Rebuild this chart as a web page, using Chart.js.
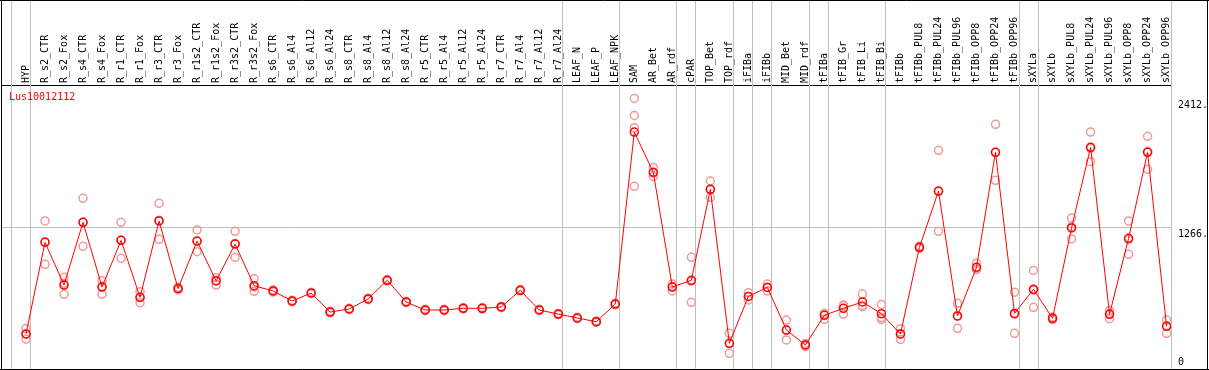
<!DOCTYPE html>
<html>
<head>
<meta charset="utf-8">
<script src="https://cdn.jsdelivr.net/npm/chart.js@4.4.1/dist/chart.umd.min.js"></script>
<style>
  html, body { margin: 0; padding: 0; background: #fff; }
  canvas { display: block; }
</style>
</head>
<body>
<canvas id="exprChart" width="1209" height="370"></canvas>
<script>
var geneName = 'Lus10012112'

var categories = [
  'HYP', 'R_s2_CTR', 'R_s2_Fox', 'R_s4_CTR', 'R_s4_Fox', 'R_r1_CTR', 'R_r1_Fox', 'R_r3_CTR', 'R_r3_Fox',
  'R_r1s2_CTR', 'R_r1s2_Fox', 'R_r3s2_CTR', 'R_r3s2_Fox', 'R_s6_CTR', 'R_s6_Al4', 'R_s6_Al12', 'R_s6_Al24',
  'R_s8_CTR', 'R_s8_Al4', 'R_s8_Al12', 'R_s8_Al24', 'R_r5_CTR', 'R_r5_Al4', 'R_r5_Al12', 'R_r5_Al24',
  'R_r7_CTR', 'R_r7_Al4', 'R_r7_Al12', 'R_r7_Al24', 'LEAF_N', 'LEAF_P', 'LEAF_NPK', 'SAM', 'AR_Bet', 'AR_rdf',
  'cPAR', 'TOP_Bet', 'TOP_rdf', 'iFIBa', 'iFIBb', 'MID_Bet', 'MID_rdf', 'tFIBa', 'tFIB_Gr', 'tFIB_Li', 'tFIB_Bi',
  'tFIBb', 'tFIBb_PUL8', 'tFIBb_PUL24', 'tFIBb_PUL96', 'tFIBb_OPP8', 'tFIBb_OPP24', 'tFIBb_OPP96',
  'sXYLa', 'sXYLb', 'sXYLb_PUL8', 'sXYLb_PUL24', 'sXYLb_PUL96', 'sXYLb_OPP8', 'sXYLb_OPP24', 'sXYLb_OPP96'
]

var means = [
  320, 1134, 755, 1312, 737, 1152, 646, 1324, 723,
  1146, 791, 1119, 749, 702, 613, 684, 515,
  542, 631, 797, 604, 533, 533, 548, 548,
  560, 708, 533, 497, 462, 429, 586, 2114, 1756, 737,
  797, 1605, 237, 654, 734, 355, 222, 486, 548, 604, 500,
  320, 1090, 1590, 480, 912, 1934, 503,
  717, 459, 1262, 1978, 495, 1170, 1934, 388
]

var replicates = [
  [368, 318, 274], [1324, 1139, 939], [823, 770, 672], [1525, 1312, 1099], [794, 745, 672],
  [1312, 1152, 992], [696, 644, 598], [1481, 1330, 1161], [735, 723, 711],
  [1244, 1143, 1051], [820, 798, 755], [1232, 1124, 1001], [811, 737, 699],
  [712, 702, 692], [620, 613, 606], [690, 684, 678], [522, 515, 508],
  [548, 542, 536], [638, 631, 624], [804, 797, 790], [610, 604, 598],
  [539, 533, 527], [540, 533, 526], [554, 548, 542], [555, 548, 541],
  [566, 560, 554], [715, 708, 701], [539, 533, 527], [503, 497, 491],
  [468, 462, 456], [435, 429, 423], [592, 586, 580],
  [2413, 2262, 2153, 1632], [1800, 1750, 1718], [764, 745, 702],
  [1001, 789, 601], [1679, 1602, 1534], [326, 237, 148],
  [687, 654, 622], [764, 736, 702], [444, 355, 267], [235, 222, 210],
  [503, 502, 450], [577, 570, 497], [675, 574, 563], [583, 467, 450],
  [367, 321, 272], [1100, 1090, 1080], [1952, 1586, 1232], [592, 478, 370],
  [948, 894, 894], [2183, 1934, 1685], [690, 493, 326],
  [885, 709, 557], [470, 459, 448], [1350, 1272, 1164], [2114, 1969, 1851],
  [527, 502, 456], [1324, 1158, 1028], [2076, 1943, 1783], [444, 394, 326]
]

// index of first category in each block (61 = right edge)
var groupStarts = [0, 1, 29, 32, 35, 36, 38, 39, 40, 42, 43, 46, 53, 54, 61]

var yTicks = [0, 1266, 2412]
var yTickLabels = ['0', '1266.', '2412.']
var yMax = 2532

var monoFont = '"DejaVu Sans Mono", monospace'

var meanPoints = means.map(function (v, i) { return { x: i, y: v } })
var repPoints = []
replicates.forEach(function (reps, i) {
  reps.forEach(function (v) { repPoints.push({ x: i, y: v }) })
})

var framePlugin = {
  id: 'framePlugin',
  beforeDatasetsDraw: function (chart) {
    var ctx = chart.ctx
    var xs = chart.scales.x
    var area = chart.chartArea
    ctx.save()
    ctx.strokeStyle = '#c0c0c0'
    ctx.lineWidth = 1
    groupStarts.forEach(function (k) {
      var px = Math.round(xs.getPixelForValue(k - 0.79)) + 0.5
      ctx.beginPath()
      ctx.moveTo(px, 0)
      ctx.lineTo(px, area.bottom)
      ctx.stroke()
    })
    ctx.restore()
  },
  afterDraw: function (chart) {
    var ctx = chart.ctx
    var ys = chart.scales.y
    var area = chart.chartArea
    ctx.save()
    // outer frame
    ctx.strokeStyle = '#000'
    ctx.lineWidth = 1
    ctx.beginPath()
    ctx.moveTo(0, 0.5); ctx.lineTo(chart.width, 0.5)
    ctx.moveTo(1.5, 0); ctx.lineTo(1.5, chart.height)
    ctx.moveTo(chart.width - 1.5, 0); ctx.lineTo(chart.width - 1.5, chart.height)
    ctx.moveTo(0, chart.height - 0.5); ctx.lineTo(chart.width, chart.height - 0.5)
    ctx.stroke()

    // y tick labels
    ctx.font = '10px ' + monoFont
    ctx.fillStyle = '#000'
    ctx.textAlign = 'left'
    yTicks.forEach(function (v, i) {
      var py = ys.getPixelForValue(v)
      if (py + 12 > area.bottom) {
        ctx.textBaseline = 'bottom'
        ctx.fillText(yTickLabels[i], area.right + 7, area.bottom - 3)
      } else {
        ctx.textBaseline = 'top'
        ctx.fillText(yTickLabels[i], area.right + 7, py + 2)
      }
    })

    // gene name
    ctx.fillStyle = '#ff0000'
    ctx.textBaseline = 'middle'
    ctx.fillText(geneName, 9, area.top + 12)
    ctx.restore()
  }
}

var exprChart = new Chart(document.getElementById('exprChart'), {
  type: 'line',
  data: {
    datasets: [
      {
        label: 'mean',
        data: meanPoints,
        borderColor: '#ff0000',
        borderWidth: 1,
        tension: 0,
        pointRadius: 4,
        pointBorderWidth: 1.5,
        pointBorderColor: '#ff0000',
        pointBackgroundColor: 'rgba(0,0,0,0)',
        order: 1
      },
      {
        label: 'replicates',
        data: repPoints,
        showLine: false,
        pointRadius: 4,
        pointBorderWidth: 1.5,
        pointBorderColor: '#f09a9a',
        pointBackgroundColor: 'rgba(0,0,0,0)',
        order: 2
      }
    ]
  },
  options: {
    responsive: false,
    animation: false,
    devicePixelRatio: 1,
    layout: { padding: { left: 1, right: 0, top: 0, bottom: 0 }, autoPadding: false },
    plugins: { legend: { display: false }, tooltip: { enabled: false } },
    scales: {
      x: {
        type: 'linear',
        position: 'top',
        min: -1.315,
        max: 60.232,
        afterBuildTicks: function (scale) {
          scale.ticks = categories.map(function (c, i) { return { value: i } })
        },
        afterFit: function (scale) { scale.height = 85 },
        grid: { display: false, drawTicks: false },
        border: { display: true, color: '#000', width: 1 },
        ticks: {
          autoSkip: false,
          minRotation: 90,
          maxRotation: 90,
          padding: 2,
          labelOffset: 12,
          color: '#000',
          font: { family: monoFont, size: 10 },
          callback: function (value, index) { return categories[index] }
        }
      },
      y: {
        type: 'linear',
        position: 'right',
        min: 0,
        max: yMax,
        afterBuildTicks: function (scale) {
          scale.ticks = yTicks.map(function (v) { return { value: v } })
        },
        afterFit: function (scale) { scale.width = 38 },
        grid: {
          drawTicks: false,
          color: function (c) { return c.tick && c.tick.value === 1266 ? '#c0c0c0' : 'rgba(0,0,0,0)' }
        },
        border: { display: false },
        ticks: { display: false }
      }
    }
  },
  plugins: [framePlugin]
})
</script>
</body>
</html>
